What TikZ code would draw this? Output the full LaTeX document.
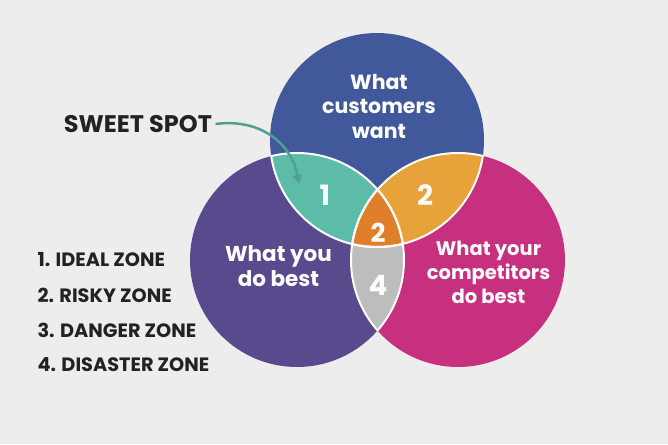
\documentclass[tikz,border=0pt]{standalone}
\usepackage{fontspec}
\setmainfont{Poppins}
\usetikzlibrary{arrows.meta, positioning}
\definecolor{bggray}{HTML}{EDEDED}
\definecolor{cblue}{HTML}{41589A}
\definecolor{cpurple}{HTML}{584A8C}
\definecolor{cmagenta}{HTML}{C7307E}
\definecolor{cteal}{HTML}{5DBCA8}
\definecolor{cyellow}{HTML}{E8A23A}
\definecolor{corange}{HTML}{E07F2A}
\definecolor{cgray}{HTML}{BEBDBD}
\definecolor{ctext}{HTML}{222222}
\tikzset{
  circtext/.style={text=white, align=center, inner sep=0pt},
  zonenum/.style={text=white, font=\bfseries\fontsize{28}{30}\selectfont},
  legend/.style={text=ctext, anchor=west, font=\bfseries\fontsize{19.3}{22}\selectfont},
  rim/.style={draw=white, line width=2pt}
}
\def\rad{107pt}
\begin{document}
\begin{tikzpicture}[x=1pt,y=-1pt]
\useasboundingbox[fill=bggray] (0,0) rectangle (668,444);
%circle centres
\coordinate (top) at (377,140);
\coordinate (left) at (297,260);
\coordinate (right) at (458,260);
%draw circles
\fill[cblue] (top) circle (\rad);
\fill[cpurple] (left) circle (\rad);
\fill[cmagenta] (right) circle (\rad);
%draw overlaps
\begin{scope}
\clip (top) circle (\rad);
\fill[cteal] (left) circle (\rad);
\fill[cyellow] (right) circle (\rad);
\end{scope}
\begin{scope}
\clip (left) circle (\rad);
\fill[cgray] (right) circle (\rad);
\clip (top) circle (\rad);
\fill[corange] (right) circle (\rad);
\end{scope}
%white rims inside the other circles
\foreach \a/\b/\c in {top/left/right, left/top/right, right/top/left}{
\begin{scope}
\clip (\a) circle (\rad);
\draw[rim] (\b) circle (\rad);
\draw[rim] (\c) circle (\rad);
\end{scope}
}
%circle texts
\node[circtext, font=\bfseries\fontsize{20.5}{24.5}\selectfont] (want) at (379,106) {What\\customers\\want};
\node[circtext, font=\bfseries\fontsize{21.5}{25}\selectfont] (best) at (278.5,266.5) {What you\\do best};
\node[circtext, font=\bfseries\fontsize{19.5}{24}\selectfont] (comp) at (488.5,272) {What your\\competitors\\do best};
%zone numbers
\node[zonenum] (z1) at (325,195) {1};
\node[zonenum] (z2) at (425,195) {2};
\node[zonenum, font=\bfseries\fontsize{26}{28}\selectfont] (z3) at (378,233) {2};
\node[zonenum] (z4) at (378,285) {4};
%sweet spot label and arrow
\node[text=ctext, font=\bfseries\fontsize{24}{28}\selectfont] (sweet) at (138,124) {SWEET SPOT};
\coordinate (spot) at (299,184);
\draw[cteal!85!black, line width=2.5pt, -{Triangle[length=9pt,width=9pt]}]
  (sweet.east) .. controls (262,118) and (292,145) .. (spot);
%legend
\node[legend] (l1) at (34,260) {1. IDEAL ZONE};
\node[legend] (l2) at (34,295) {2. RISKY ZONE};
\node[legend] (l3) at (34,330) {3. DANGER ZONE};
\node[legend] (l4) at (34,365) {4. DISASTER ZONE};
\end{tikzpicture}
\end{document}
